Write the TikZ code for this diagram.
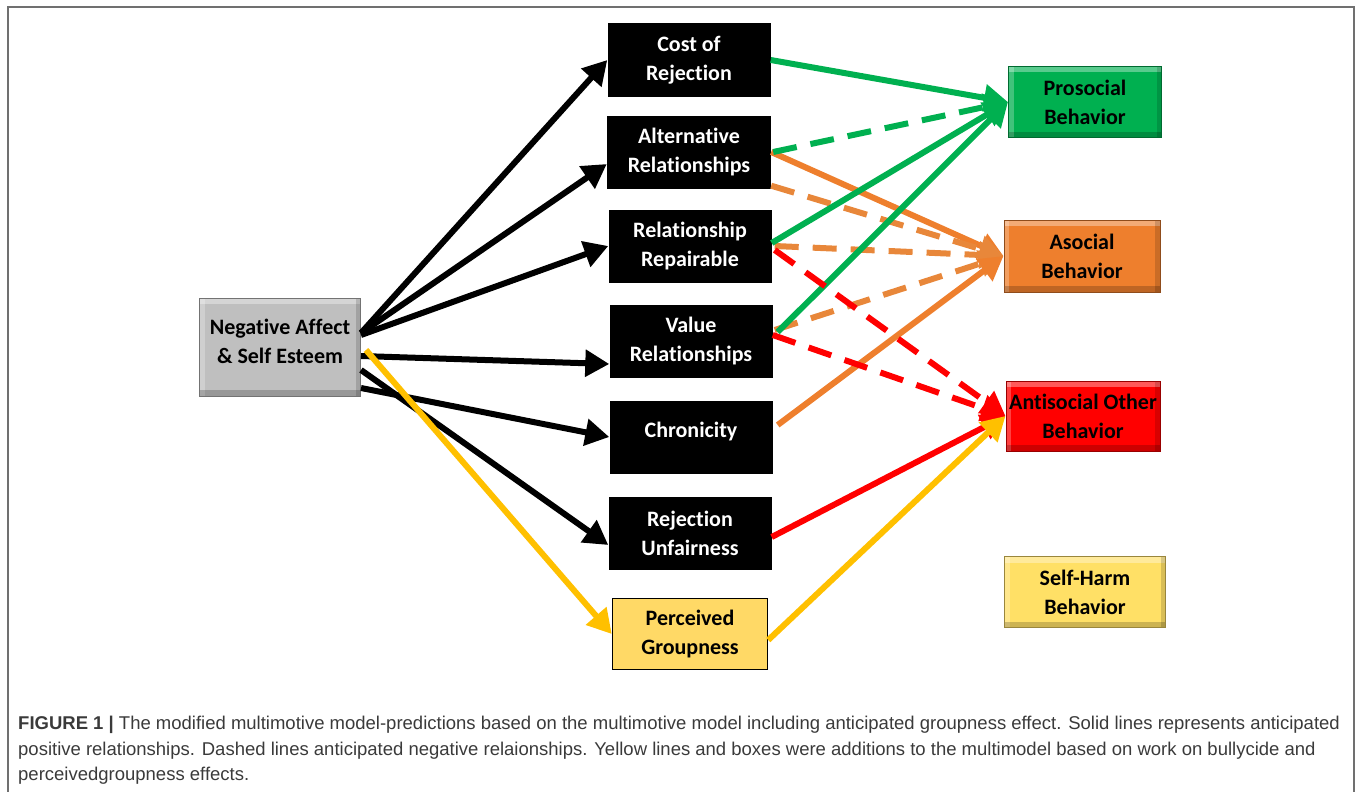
\documentclass[tikz,border=0pt]{standalone}
\usepackage{fontspec}
\setmainfont{Liberation Sans}
\newfontfamily\boxfont{Carlito}[Ligatures=NoCommon]
\usetikzlibrary{arrows.meta}

\definecolor{prosoc}{HTML}{00B050}
\definecolor{asoc}{HTML}{EE7F2D}
\definecolor{asocdash}{HTML}{E8873A}
\definecolor{antisoc}{HTML}{FF0000}
\definecolor{groupy}{HTML}{FFC000}
\definecolor{groupfill}{HTML}{FFD966}
\definecolor{harmfill}{HTML}{FFE066}
\definecolor{negfill}{HTML}{BFBFBF}
\definecolor{captxt}{HTML}{3A3A3A}
\definecolor{framegray}{HTML}{707070}

\begin{document}
\begin{tikzpicture}[x=1pt,y=-1pt,
    box/.style={minimum width=163pt, minimum height=73pt, align=center, inner sep=0pt,
      font=\boxfont\bfseries\fontsize{22}{29}\selectfont},
    blackbox/.style={box, fill=black, text=white},
    bevel/.style={box, fill=#1, draw=#1!60!black, line width=1pt, text=black,
      path picture={
        \fill[white, opacity=.35] (path picture bounding box.north west) rectangle ([yshift=-6pt]path picture bounding box.north east);
        \fill[white, opacity=.25] (path picture bounding box.north west) rectangle ([xshift=5pt]path picture bounding box.south west);
        \fill[black, opacity=.2] (path picture bounding box.south west) rectangle ([yshift=6pt]path picture bounding box.south east);
        \fill[black, opacity=.15] (path picture bounding box.north east) rectangle ([xshift=-5pt]path picture bounding box.south east);
      }},
    link/.style={line width=6pt, -{Triangle[length=24pt,width=26pt]}},
    dashlink/.style={link, dash pattern=on 24pt off 14pt}
  ]
  \useasboundingbox (0,0) rectangle (1357,792);
  \draw[framegray, line width=2pt] (8,792) -- (8,7) -- (1354,7) -- (1354,792);

  % source
  \node[bevel=negfill, minimum width=161pt, minimum height=98pt] (neg) at (280,347) {Negative Affect\\\& Self Esteem\\[-17pt]\mbox{}};

  % motives
  \node[blackbox] (cost) at (689,60) {Cost of\\Rejection};
  \node[blackbox, minimum width=164pt] (alt) at (689,152) {Alternative\\Relationships};
  \node[blackbox] (rep) at (690,246) {Relationship\\Repairable};
  \node[blackbox] (val) at (691,341) {Value\\Relationships};
  \node[blackbox] (chr) at (691,437) {Chronicity\\[-14pt]\mbox{}};
  \node[blackbox] (rej) at (690,533) {Rejection\\Unfairness};
  \node[box, fill=groupfill, draw=black, line width=1.5pt, minimum width=155pt, minimum height=71pt] (grp) at (690,634) {Perceived\\Groupness};

  % outcomes
  \node[bevel=prosoc, minimum width=153pt, minimum height=71pt] (pro) at (1085,102) {Prosocial\\Behavior};
  \node[bevel=asoc, minimum width=156pt, minimum height=72pt] (asocial) at (1082,256) {Asocial\\Behavior};
  \node[bevel=antisoc, minimum width=154pt, minimum height=70pt] (anti) at (1083,416) {Antisocial Other\\Behavior};
  \node[bevel=harmfill, minimum width=161pt, minimum height=71pt] (harm) at (1085,592) {Self-Harm\\Behavior};

  % source to motives
  \draw[link] ([yshift=14pt]neg.east) -- (cost.west);
  \draw[link] ([yshift=14pt]neg.east) -- ([yshift=-12pt]alt.west);
  \draw[link] ([yshift=12pt]neg.east) -- (rep.west);
  \draw[link] ([yshift=-9pt]neg.east) -- ([yshift=-23pt]val.west);
  \draw[link] ([yshift=-41pt]neg.east) -- (chr.west);
  \draw[link] ([yshift=-23pt]neg.east) -- ([yshift=-12pt]rej.west);
  \draw[link, groupy] ([xshift=5pt,yshift=-3pt]neg.east) -- (grp.west);

  % motives to outcomes
  \draw[link, asoc] (alt.east) -- (asocial.west);
  \draw[dashlink, asocdash] ([yshift=3pt]alt.south east) -- (asocial.west);
  \draw[dashlink, asocdash] ([xshift=3pt]rep.east) -- (asocial.west);
  \draw[dashlink, asocdash] ([xshift=2pt,yshift=11pt]val.east) -- (asocial.west);
  \draw[link, asoc] ([xshift=5pt,yshift=12pt]chr.east) -- (asocial.west);
  \draw[link, prosoc] (cost.east) -- (pro.west);
  \draw[dashlink, prosoc] ([xshift=2pt]alt.east) -- (pro.west);
  \draw[link, prosoc] ([yshift=3pt]rep.east) -- (pro.west);
  \draw[link, prosoc] ([xshift=5pt,yshift=9pt]val.east) -- (pro.west);
  \draw[dashlink, antisoc] ([xshift=3pt,yshift=-4pt]rep.east) -- (anti.west);
  \draw[dashlink, antisoc] ([yshift=6pt]val.east) -- (anti.west);
  \draw[link, antisoc] ([yshift=-4pt]rej.east) -- (anti.west);
  \draw[link, groupy] ([yshift=-6pt]grp.east) -- (anti.west);

  % caption
  \node[anchor=north west, align=left, inner sep=0pt, text=captxt,
    font=\fontsize{18.5}{25.5}\selectfont] (caption) at (18,716)
    {\textbf{FIGURE 1 |} The modified multimotive model-predictions based on the multimotive model including anticipated groupness effect. Solid lines represents anticipated\\
     positive relationships. Dashed lines anticipated negative relaionships. Yellow lines and boxes were additions to the multimodel based on work on bullycide and\\
     perceivedgroupness effects.};
\end{tikzpicture}
\end{document}
